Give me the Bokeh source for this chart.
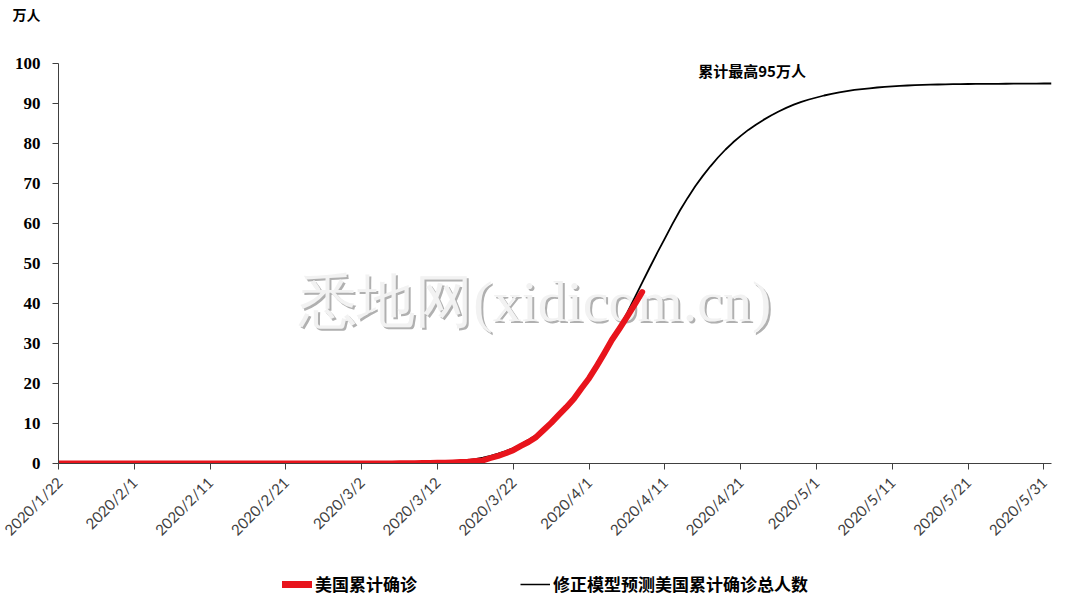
from bokeh.plotting import figure
from bokeh.layouts import column
from bokeh.models import ColumnDataSource, FixedTicker, Legend, LegendItem, Label, Range1d
from bokeh.embed import file_html
from bokeh.resources import INLINE
from bokeh.core.properties import value
import math

# ---------------- data ----------------
tick_days = [0, 10, 20, 30, 40, 50, 60, 70, 80, 90, 100, 110, 120, 130]
tick_labels = ["2020/1/22", "2020/2/1", "2020/2/11", "2020/2/21", "2020/3/2", "2020/3/12",
               "2020/3/22", "2020/4/1", "2020/4/11", "2020/4/21", "2020/5/1", "2020/5/11",
               "2020/5/21", "2020/5/31"]
y_ticks = [0, 10, 20, 30, 40, 50, 60, 70, 80, 90, 100]

# 美国累计确诊 (万人), daily from 2020/1/22 to 2020/4/8
actual = [
    0.0001, 0.0001, 0.0002, 0.0002, 0.0005, 0.0005, 0.0005, 0.0006, 0.0006, 0.0008,
    0.0008, 0.0009, 0.0011, 0.0011, 0.0012, 0.0012, 0.0012, 0.0012, 0.0012, 0.0012,
    0.0013, 0.0013, 0.0014, 0.0014, 0.0014, 0.0014, 0.0014, 0.0014, 0.0014, 0.0014,
    0.0016, 0.0016, 0.0016, 0.0051, 0.0051, 0.0057, 0.0058, 0.0060, 0.0068,
    0.0074, 0.0098, 0.0118, 0.0149, 0.0217, 0.0262, 0.0402, 0.0518, 0.0583, 0.0959,
    0.1281, 0.1663, 0.2179, 0.2726, 0.3499, 0.4632, 0.6421, 0.7783, 1.3747, 1.9273,
    2.5600, 3.3276, 4.3843, 5.3736, 6.5778, 8.3836, 10.1657, 12.1478, 14.0886, 16.1807, 18.8172,
    21.3242, 24.3622, 27.5367, 30.8650, 33.6802, 36.6317, 39.7121, 42.8654,
]

# 修正模型预测美国累计确诊总人数 (万人), daily from 2020/1/22 to 2020/6/1
model = [
    0.00, 0.00, 0.00, 0.00, 0.00, 0.00, 0.00, 0.00, 0.00, 0.00,
    0.00, 0.00, 0.00, 0.00, 0.00, 0.00, 0.00, 0.00, 0.00, 0.00,
    0.00, 0.00, 0.00, 0.00, 0.00, 0.00, 0.00, 0.00, 0.00, 0.00,
    0.00, 0.00, 0.00, 0.00, 0.00, 0.00, 0.00, 0.00, 0.00, 0.00,
    0.01, 0.02, 0.02, 0.03, 0.04, 0.05, 0.07, 0.10, 0.13, 0.18,
    0.25, 0.35, 0.48, 0.64, 0.85, 1.10, 1.45, 1.90, 2.45, 3.10,
    3.85, 4.80, 5.90, 7.10, 8.50, 10.10, 12.00, 14.20, 16.60, 19.10,
    21.70, 24.40, 27.30, 30.50, 34.00, 37.60, 41.40, 45.20, 49.00, 52.70,
    56.30, 59.90, 63.30, 66.40, 69.30, 71.90, 74.30, 76.50, 78.50, 80.30,
    81.90, 83.40, 84.70, 85.90, 87.00, 88.00, 88.90, 89.70, 90.40, 91.00,
    91.50, 92.00, 92.40, 92.80, 93.10, 93.40, 93.60, 93.80, 94.00, 94.15,
    94.30, 94.40, 94.50, 94.58, 94.65, 94.70, 94.75, 94.80, 94.83, 94.86,
    94.88, 94.90, 94.91, 94.92, 94.93, 94.94, 94.95, 94.96, 94.97, 94.98,
    95.00, 95.00,
]

series_names = ["美国累计确诊", "修正模型预测美国累计确诊总人数"]
series_colors = ["#e8141c", "#000000"]
series_widths = [6, 1.8]
unit_label = "万人"
note_text = "累计最高95万人"
watermark = "悉地网(xidicom.cn)"

# ---------------- main figure ----------------
p = figure(width=1064, height=570, output_backend="svg", toolbar_location=None,
           x_range=Range1d(0, 131), y_range=Range1d(0, 100),
           min_border_left=58, min_border_right=13, min_border_top=63, min_border_bottom=107)
p.xgrid.visible = False
p.ygrid.visible = False
p.outline_line_color = None
p.background_fill_color = "white"
p.border_fill_color = "white"

# unit label as title (blank lines below it lift it to the top-left corner)
p.title.text = unit_label + "\n \n "
p.title.align = "left"
p.title.offset = -46
p.title.standoff = 0
p.title.text_line_height = 1.0
p.title.text_font = "Noto Sans CJK SC"
p.title.text_font_style = "bold"
p.title.text_font_size = "14px"
p.title.text_color = "#000000"

src_a = ColumnDataSource(dict(x=list(range(len(actual))), y=actual))
src_m = ColumnDataSource(dict(x=list(range(len(model))), y=model))

# watermark
wm_font = value("Liberation Serif")
p.text(x=[62.9], y=[40.5], text=[watermark], text_font=wm_font, text_font_size="58px",
       text_align="center", text_baseline="middle", text_color="#b0b0b0",
       x_offset=2, y_offset=2)
p.text(x=[62.9], y=[40.5], text=[watermark], text_font=wm_font, text_font_size="58px",
       text_align="center", text_baseline="middle", text_color="#f2f2f2")

p.line("x", "y", source=src_m, line_color=series_colors[1], line_width=series_widths[1])
p.line("x", "y", source=src_a, line_color=series_colors[0], line_width=series_widths[0],
       line_cap="round", line_join="round")

# axes
for ax in (p.xaxis[0], p.yaxis[0]):
    ax.axis_line_color = "#404040"
    ax.major_tick_line_color = "#404040"
    ax.major_tick_out = 6
    ax.major_tick_in = 0
    ax.minor_tick_line_color = None

p.xaxis.ticker = FixedTicker(ticks=tick_days)
p.xaxis.major_label_overrides = {d: l for d, l in zip(tick_days, tick_labels)}
p.xaxis.major_label_orientation = math.pi / 4
p.xaxis.major_label_text_font = "Lato"
p.xaxis.major_label_text_font_size = "15px"
p.xaxis.major_label_text_color = "#404040"
p.xaxis.major_label_standoff = 10

p.yaxis.ticker = FixedTicker(ticks=y_ticks)
p.yaxis.major_label_text_font = "Liberation Serif"
p.yaxis.major_label_text_font_style = "bold"
p.yaxis.major_label_text_font_size = "17px"
p.yaxis.major_label_text_color = "#000000"
p.yaxis.major_label_standoff = 12

p.add_layout(Label(x=84.4, y=98.3, text=note_text,
                   text_font="Noto Sans CJK SC", text_font_style="bold",
                   text_font_size="15px", text_baseline="middle", text_align="left",
                   text_color="#000000"))

# ---------------- legend strip ----------------
lg = figure(width=1064, height=29, output_backend="svg", toolbar_location=None,
            x_range=Range1d(0, 1), y_range=Range1d(0, 1),
            x_axis_location=None, y_axis_location=None,
            min_border_left=0, min_border_right=0, min_border_top=0, min_border_bottom=0)
lg.xgrid.visible = False
lg.ygrid.visible = False
lg.outline_line_color = None
lg.border_fill_color = "white"

leg_src = ColumnDataSource(dict(x=[5, 6], y=[5, 6]))  # outside the visible range
leg_r0 = lg.line("x", "y", source=leg_src, line_color=series_colors[0],
                 line_width=series_widths[0] + 1, line_cap="round")
leg_r1 = lg.line("x", "y", source=leg_src, line_color=series_colors[1],
                 line_width=series_widths[1] - 0.3)

legend = Legend(items=[LegendItem(label=series_names[0], renderers=[leg_r0]),
                       LegendItem(label=series_names[1], renderers=[leg_r1])],
                orientation="horizontal", location=(224, 3),
                padding=0, margin=0, spacing=103, glyph_width=30, glyph_height=20,
                label_standoff=3, label_text_font="Noto Sans CJK SC",
                label_text_font_style="bold", label_text_font_size="17px",
                label_text_color="#000000",
                border_line_alpha=0, background_fill_alpha=0)
lg.add_layout(legend, "center")

open("out.html", "w").write(file_html(column(p, lg, spacing=0), INLINE))
